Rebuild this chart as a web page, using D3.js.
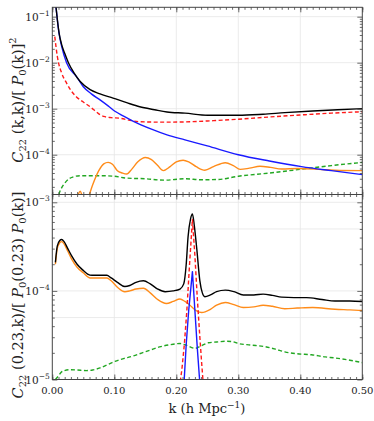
<!DOCTYPE html>
<html><head><meta charset="utf-8">
<script src="https://cdn.jsdelivr.net/npm/d3@7"></script>
<style>
body{margin:0;background:#fff;}
svg{display:block;}
</style></head>
<body><svg id="c" width="374" height="421" font-family="'DejaVu Serif', 'Liberation Serif', serif"></svg>
<script>
// ---------- data ----------
const xTicks = [0.00,0.10,0.20,0.30,0.40,0.50];
const xTickLabels = ["0.00","0.10","0.20","0.30","0.40","0.50"];
const topYTicks = [1e-1,1e-2,1e-3,1e-4];
const topYTickExp = ["−1","−2","−3","−4"];
const botYTicks = [1e-3,1e-4,1e-5];
const botYTickExp = ["−3","−4","−5"];

// top panel: C22(k,k)/P0(k)^2
const topBlackK = [0.005,0.006,0.008,0.011,0.015,0.02,0.026,0.035,0.045,0.061,0.077,0.098,0.12,0.141,0.165,0.185,0.214,0.251,0.30,0.34,0.375,0.42,0.46,0.5];
const topBlackV = [0.22,0.16,0.09,0.044,0.025,0.016,0.01,6.0e-3,3.9e-3,2.6e-3,2.1e-3,1.7e-3,1.35e-3,1.1e-3,9.5e-4,8.5e-4,8.0e-4,7.2e-4,7.2e-4,7.6e-4,8.2e-4,8.9e-4,9.5e-4,1.0e-3];
const topBlueK = [0.005,0.006,0.008,0.011,0.015,0.023,0.039,0.05,0.063,0.077,0.09,0.101,0.115,0.13,0.16,0.185,0.214,0.25,0.30,0.35,0.402,0.45,0.5];
const topBlueV = [0.22,0.16,0.088,0.042,0.023,0.01,5.0e-3,3.0e-3,2.1e-3,1.55e-3,1.15e-3,8.8e-4,6.9e-4,5.4e-4,3.6e-4,2.7e-4,2.1e-4,1.55e-4,1.0e-4,7.3e-5,5.5e-5,4.5e-5,3.7e-5];
const topRedK = [0.004,0.006,0.008,0.01,0.015,0.023,0.03,0.039,0.05,0.061,0.07,0.077,0.085,0.095,0.109,0.125,0.141,0.18,0.222,0.26,0.30,0.35,0.40,0.45,0.5];
const topRedV = [0.037,0.022,0.014,0.01,6.0e-3,3.6e-3,2.5e-3,1.8e-3,1.4e-3,1.1e-3,8.8e-4,7.4e-4,6.7e-4,6.4e-4,6.2e-4,5.6e-4,5.2e-4,5.1e-4,5.2e-4,5.5e-4,5.9e-4,6.6e-4,7.3e-4,8.0e-4,8.6e-4];
const topGreenK = [0.009,0.011,0.015,0.020,0.027,0.034,0.045,0.06,0.08,0.10,0.12,0.15,0.18,0.215,0.24,0.268,0.30,0.35,0.40,0.45,0.5];
const topGreenV = [1.0e-5,1.4e-5,1.9e-5,2.4e-5,3.0e-5,3.3e-5,3.5e-5,3.5e-5,3.5e-5,3.4e-5,3.1e-5,3.0e-5,2.8e-5,3.0e-5,2.85e-5,2.9e-5,3.4e-5,4.0e-5,4.8e-5,5.8e-5,6.8e-5];
const topOrangeK = [0.038,0.042,0.045,0.048,0.052,0.058,0.065,0.075,0.083,0.09,0.097,0.105,0.113,0.12,0.128,0.138,0.15,0.16,0.17,0.179,0.19,0.2,0.211,0.22,0.232,0.246,0.26,0.279,0.292,0.303,0.318,0.335,0.352,0.37,0.396,0.43,0.455,0.5];
const topOrangeV = [1.0e-5,1.4e-5,1.6e-5,1.3e-5,1.0e-5,1.2e-5,2.2e-5,4.5e-5,6.3e-5,6.8e-5,6.2e-5,4.5e-5,4.0e-5,3.8e-5,4.8e-5,7.0e-5,8.7e-5,7.8e-5,5.8e-5,4.5e-5,5.5e-5,7.0e-5,7.6e-5,7.0e-5,5.5e-5,4.6e-5,5.5e-5,6.7e-5,5.8e-5,4.8e-5,5.1e-5,5.6e-5,5.3e-5,4.9e-5,5.0e-5,4.8e-5,4.6e-5,4.5e-5];

// bottom panel: C22(0.23,k)/[P0(0.23)P0(k)]
const botBlackK = [0.005,0.008,0.012,0.015,0.019,0.025,0.031,0.04,0.05,0.057,0.064,0.075,0.088,0.095,0.105,0.117,0.125,0.135,0.147,0.158,0.17,0.182,0.195,0.206,0.212,0.216,0.219,0.223,0.226,0.229,0.233,0.238,0.242,0.246,0.255,0.265,0.279,0.293,0.308,0.325,0.34,0.355,0.37,0.39,0.41,0.435,0.456,0.48,0.5];
const botBlackV = [2.1e-4,3.2e-4,3.7e-4,3.8e-4,3.6e-4,3.0e-4,2.5e-4,2.0e-4,1.7e-4,1.55e-4,1.5e-4,1.5e-4,1.5e-4,1.4e-4,1.25e-4,1.12e-4,1.15e-4,1.25e-4,1.3e-4,1.2e-4,1.05e-4,9.8e-5,1.0e-4,1.05e-4,1.2e-4,2.0e-4,4.1e-4,6.5e-4,7.4e-4,5.5e-4,3.0e-4,1.3e-4,9.5e-5,8.6e-5,9.0e-5,9.8e-5,1.02e-4,9.8e-5,9.0e-5,9.0e-5,9.2e-5,8.9e-5,8.5e-5,8.4e-5,8.4e-5,8.0e-5,7.7e-5,7.7e-5,7.6e-5];
const botOrangeK = [0.005,0.008,0.012,0.015,0.019,0.025,0.031,0.04,0.05,0.061,0.075,0.088,0.095,0.105,0.117,0.125,0.135,0.147,0.158,0.17,0.184,0.195,0.206,0.214,0.222,0.232,0.241,0.255,0.265,0.279,0.293,0.308,0.325,0.34,0.355,0.375,0.395,0.42,0.456,0.48,0.5];
const botOrangeV = [2.0e-4,3.0e-4,3.5e-4,3.6e-4,3.4e-4,2.8e-4,2.3e-4,1.85e-4,1.6e-4,1.4e-4,1.4e-4,1.4e-4,1.3e-4,1.1e-4,9.8e-5,1.0e-4,1.05e-4,1.07e-4,9.5e-5,8.0e-5,7.2e-5,7.6e-5,8.1e-5,7.6e-5,6.9e-5,6.0e-5,5.7e-5,6.2e-5,6.9e-5,7.4e-5,7.0e-5,6.5e-5,6.6e-5,6.9e-5,6.7e-5,6.3e-5,6.4e-5,6.5e-5,6.2e-5,6.1e-5,6.0e-5];
const botGreenK = [0.005,0.01,0.014,0.018,0.029,0.04,0.055,0.065,0.077,0.09,0.101,0.115,0.131,0.145,0.158,0.175,0.195,0.206,0.215,0.23,0.24,0.252,0.265,0.279,0.29,0.30,0.32,0.343,0.36,0.375,0.395,0.418,0.44,0.456,0.48,0.5];
const botGreenV = [1.0e-5,1.1e-5,1.2e-5,1.25e-5,1.29e-5,1.28e-5,1.26e-5,1.28e-5,1.35e-5,1.48e-5,1.6e-5,1.72e-5,1.85e-5,2.0e-5,2.15e-5,2.35e-5,2.5e-5,2.55e-5,2.45e-5,2.25e-5,2.4e-5,2.6e-5,2.65e-5,2.7e-5,2.68e-5,2.55e-5,2.45e-5,2.35e-5,2.2e-5,2.05e-5,1.95e-5,1.9e-5,1.8e-5,1.75e-5,1.65e-5,1.55e-5];
const botRedK = [0.205,0.209,0.213,0.217,0.221,0.226,0.230,0.234,0.238,0.241,0.244];
const botRedV = [8e-6,1.3e-5,2.5e-5,6e-5,1.8e-4,6.4e-4,2.5e-4,8e-5,3e-5,1.5e-5,8e-6];
const botBlueK = [0.212,0.216,0.220,0.226,0.230,0.234,0.238,0.240];
const botBlueV = [8e-6,2.5e-5,6e-5,1.65e-4,6e-5,2.2e-5,9e-6,6e-6];

// ---------- layout ----------
const svg = d3.select("#c");
const L = 52.3, R = 362.3;
const topPanel = {y0:7.3, y1:194.5, dom:[Math.pow(10,-4.865), Math.pow(10,-0.796)]};
const botPanel = {y0:194.5, y1:379.5, dom:[1e-5, Math.pow(10,-2.912)]};
const x = d3.scaleLinear().domain([0,0.5]).range([L,R]);
const frameCol = "#444";
const gridCol = "#e6e6e6";
const txtCol = "#222";

function zip(k,v){return k.map((d,i)=>[d,v[i]]);}

function panel(p, id, yTicks, yExp, gridExtra, series, showXLabels){
  const y = d3.scaleLog().domain(p.dom).range([p.y1,p.y0]);
  const g = svg.append("g");
  g.append("defs").append("clipPath").attr("id",id).append("rect")
    .attr("x",L).attr("y",p.y0).attr("width",R-L).attr("height",p.y1-p.y0);
  const gridG = g.append("g");
  gridG.selectAll("line.gx").data(xTicks.slice(1,-1)).join("line")
    .attr("x1",d=>x(d)).attr("x2",d=>x(d)).attr("y1",p.y0).attr("y2",p.y1)
    .attr("stroke",gridCol).attr("stroke-width",0.8);
  gridG.selectAll("line.gy").data(yTicks.concat(gridExtra)).join("line")
    .attr("x1",L).attr("x2",R).attr("y1",d=>y(d)).attr("y2",d=>y(d))
    .attr("stroke",gridCol).attr("stroke-width",0.8);
  const line = d3.line().x(d=>x(d[0])).y(d=>y(d[1]));
  const cg = g.append("g").attr("clip-path",`url(#${id})`);
  series.forEach(s=>{
    cg.append("path").datum(zip(s.k,s.v))
      .attr("d", line.curve(s.curve||d3.curveMonotoneX))
      .attr("fill","none").attr("stroke",s.color).attr("stroke-width",s.w||1.4)
      .attr("stroke-dasharray",s.dash||null).attr("stroke-linejoin","round");
  });
  const minorX = d3.range(0,0.5001,0.01);
  const xAxB = d3.axisBottom(x).tickValues(minorX).tickSize(-2.5).tickFormat("");
  const xAxT = d3.axisTop(x).tickValues(minorX).tickSize(-2.5).tickFormat("");
  const xMajB = d3.axisBottom(x).tickValues(xTicks).tickSize(-5).tickFormat("");
  const xMajT = d3.axisTop(x).tickValues(xTicks).tickSize(-5).tickFormat("");
  [[xAxB,p.y1],[xMajB,p.y1],[xAxT,p.y0],[xMajT,p.y0]].forEach(([a,yy])=>{
    const ag = g.append("g").attr("transform",`translate(0,${yy})`).call(a);
    ag.select(".domain").remove();
    ag.selectAll("line").attr("stroke",frameCol).attr("stroke-width",0.8);
  });
  const lo = Math.floor(Math.log10(p.dom[0])), hi = Math.ceil(Math.log10(p.dom[1]));
  const minors = [];
  for(let e=lo;e<hi;e++) for(let m=2;m<=9;m++){const v=m*Math.pow(10,e); if(v>=p.dom[0]&&v<=p.dom[1]) minors.push(v);}
  const yMinL = d3.axisLeft(y).tickValues(minors).tickSize(-2.5).tickFormat("");
  const yMinR = d3.axisRight(y).tickValues(minors).tickSize(-2.5).tickFormat("");
  const yMajL = d3.axisLeft(y).tickValues(yTicks).tickSize(-5).tickFormat("");
  const yMajR = d3.axisRight(y).tickValues(yTicks).tickSize(-5).tickFormat("");
  [[yMinL,L],[yMajL,L],[yMinR,R],[yMajR,R]].forEach(([a,xx])=>{
    const ag = g.append("g").attr("transform",`translate(${xx},0)`).call(a);
    ag.select(".domain").remove();
    ag.selectAll("line").attr("stroke",frameCol).attr("stroke-width",0.8);
  });
  yTicks.forEach((v,i)=>{
    const t = g.append("text").attr("x",L-2.5).attr("y",y(v)+4).attr("text-anchor","end")
      .attr("font-size",10.5).attr("fill",txtCol);
    t.append("tspan").text("10");
    t.append("tspan").attr("dy",-5).attr("font-size",7.5).text(yExp[i]);
  });
  g.append("rect").attr("x",L).attr("y",p.y0).attr("width",R-L).attr("height",p.y1-p.y0)
    .attr("fill","none").attr("stroke",frameCol).attr("stroke-width",1);
  if(showXLabels){
    g.selectAll("text.xl").data(xTicks).join("text")
      .attr("x",d=>x(d)).attr("y",p.y1+14).attr("text-anchor","middle").attr("font-size",10)
      .attr("fill",txtCol).text((d,i)=>xTickLabels[i]);
  }
  return y;
}

panel(topPanel,"clipTop",topYTicks,topYTickExp,[],[
  {k:topGreenK,v:topGreenV,color:"#22a722",dash:"4,2.5"},
  {k:topOrangeK,v:topOrangeV,color:"#ff8c1a"},
  {k:topRedK,v:topRedV,color:"#ff1a1a",dash:"4,2.5"},
  {k:topBlueK,v:topBlueV,color:"#1a1aff"},
  {k:topBlackK,v:topBlackV,color:"#000"}
],false);

panel(botPanel,"clipBot",botYTicks,botYTickExp,[5e-4,5e-5],[
  {k:botGreenK,v:botGreenV,color:"#22a722",dash:"4,2.5"},
  {k:botOrangeK,v:botOrangeV,color:"#ff8c1a"},
  {k:botBlackK,v:botBlackV,color:"#000"},
  {k:botBlueK,v:botBlueV,color:"#1a1aff",curve:d3.curveLinear},
  {k:botRedK,v:botRedV,color:"#ff1a1a",dash:"4,2.5",curve:d3.curveLinear}
],true);

function ylab(cx, cy, parts){
  const t = svg.append("text").attr("transform",`translate(${cx},${cy}) rotate(-90)`)
    .attr("text-anchor","middle").attr("font-size",14.5).attr("fill",txtCol);
  parts.forEach(p=>{
    const s = t.append("tspan").text(p.t);
    if(p.i) s.attr("font-style","italic");
    if(p.sub){ s.attr("font-size",10).attr("dy",3); }
    if(p.sup){ s.attr("font-size",10).attr("dy",-7); }
    if(p.dy) s.attr("dy",p.dy);
  });
}
ylab(23,100,[{t:"C",i:1},{t:"22",sub:1},{t:" (k,k)/[ ",dy:-3},{t:"P",i:1},{t:"0",sub:1},{t:"(k)]",dy:-3},{t:"2",sup:1}]);
ylab(23,295,[{t:"C",i:1},{t:"22",sub:1},{t:" (0.23,k)/[ ",dy:-3},{t:"P",i:1},{t:"0",sub:1},{t:"(0.23) ",dy:-3},{t:"P",i:1},{t:"0",sub:1},{t:"(k)]",dy:-3}]);

const xl = svg.append("text").attr("x",207).attr("y",413).attr("text-anchor","middle")
  .attr("font-size",13).attr("fill",txtCol);
xl.append("tspan").text("k (h Mpc");
xl.append("tspan").attr("font-size",9).attr("dy",-5).text("−1");
xl.append("tspan").attr("dy",5).text(")");
</script></body></html>
